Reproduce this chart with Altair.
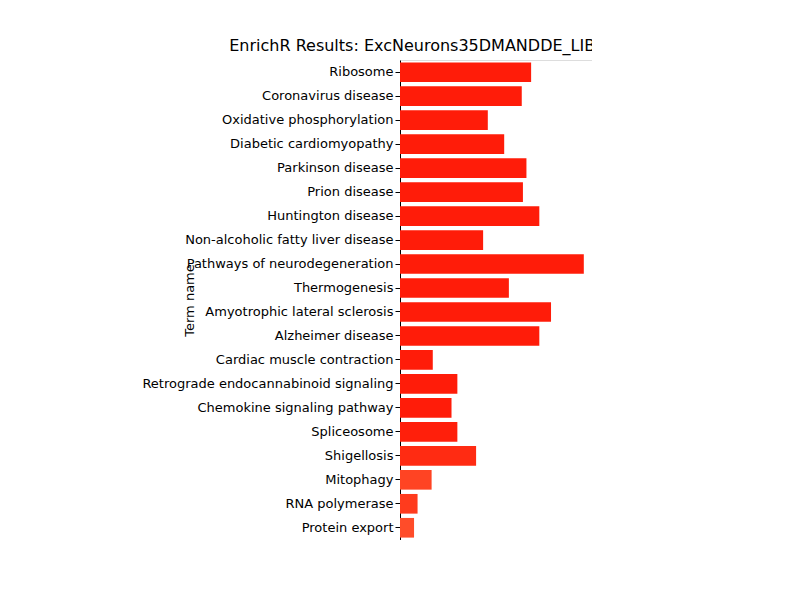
import altair as alt
import pandas as pd

terms = ["Ribosome","Coronavirus disease","Oxidative phosphorylation","Diabetic cardiomyopathy",
         "Parkinson disease","Prion disease","Huntington disease","Non-alcoholic fatty liver disease",
         "Pathways of neurodegeneration","Thermogenesis","Amyotrophic lateral sclerosis","Alzheimer disease",
         "Cardiac muscle contraction","Retrograde endocannabinoid signaling","Chemokine signaling pathway",
         "Spliceosome","Shigellosis","Mitophagy","RNA polymerase","Protein export"]
counts = [112,104,75,89,108,105,119,71,157,93,129,119,28,49,44,49,65,27,15,12]
pvals = [0.006,0.006,0.006,0.006,0.006,0.006,0.006,0.006,0.006,0.006,0.006,0.006,
         0.006,0.006,0.006,0.007,0.012,0.025,0.02,0.03]

df = pd.DataFrame({"term": terms, "count": counts, "p": pvals})
F = "DejaVu Sans"

bars = alt.Chart(df).mark_bar().encode(
    y=alt.Y("term:N", sort=terms, title="Term name",
            scale=alt.Scale(paddingInner=0.18, paddingOuter=0.1),
            axis=alt.Axis(labelFont=F, labelFontSize=13, titleFont=F, titleFontSize=13,
                          titleFontWeight="normal", labelColor="black", titleColor="black",
                          tickColor="black", domainColor="black", labelLimit=400)),
    x=alt.X("count:Q", title="gene count", scale=alt.Scale(domain=[0, 164], nice=False),
            axis=alt.Axis(values=[0,50,100,150], grid=False, labelFont=F, labelFontSize=13,
                          titleFont=F, titleFontSize=13, titleFontWeight="normal",
                          labelColor="black", titleColor="black", tickColor="black",
                          domainColor="black", labelFlush=False)),
    color=alt.Color("p:Q", title=None,
                    scale=alt.Scale(domain=[0, 0.1, 0.2], range=["#ff0000", "#ffffff", "#0000ff"]),
                    legend=alt.Legend(gradientLength=480, gradientThickness=24, offset=12,
                                      values=[0,0.025,0.05,0.075,0.1,0.125,0.15,0.175,0.2],
                                      format=".3f", labelFont=F, labelFontSize=13,
                                      gradientStrokeColor="black", gradientStrokeWidth=0.8,
                                      direction="vertical"))
)

label = alt.Chart(pd.DataFrame({"t": ["Adjusted p val"]})).mark_text(
    angle=270, font=F, fontSize=13, color="black"
).encode(x=alt.value(290), y=alt.value(240), text="t:N")

chart = alt.layer(bars, label).properties(
    width=192, height=480,
    title=alt.Title("EnrichR Results: ExcNeurons35DMANDDE_LIBRY-KEGG2021Human",
                    font=F, fontSize=16, fontWeight="normal", color="black", offset=6),
    autosize=alt.AutoSizeParams(type="none"),
    padding={"left": 392, "top": 52, "right": 0, "bottom": 0}
).configure_view(stroke="black").configure(background="white")

chart.save("out.html", embed_options={"renderer": "svg", "actions": False})
